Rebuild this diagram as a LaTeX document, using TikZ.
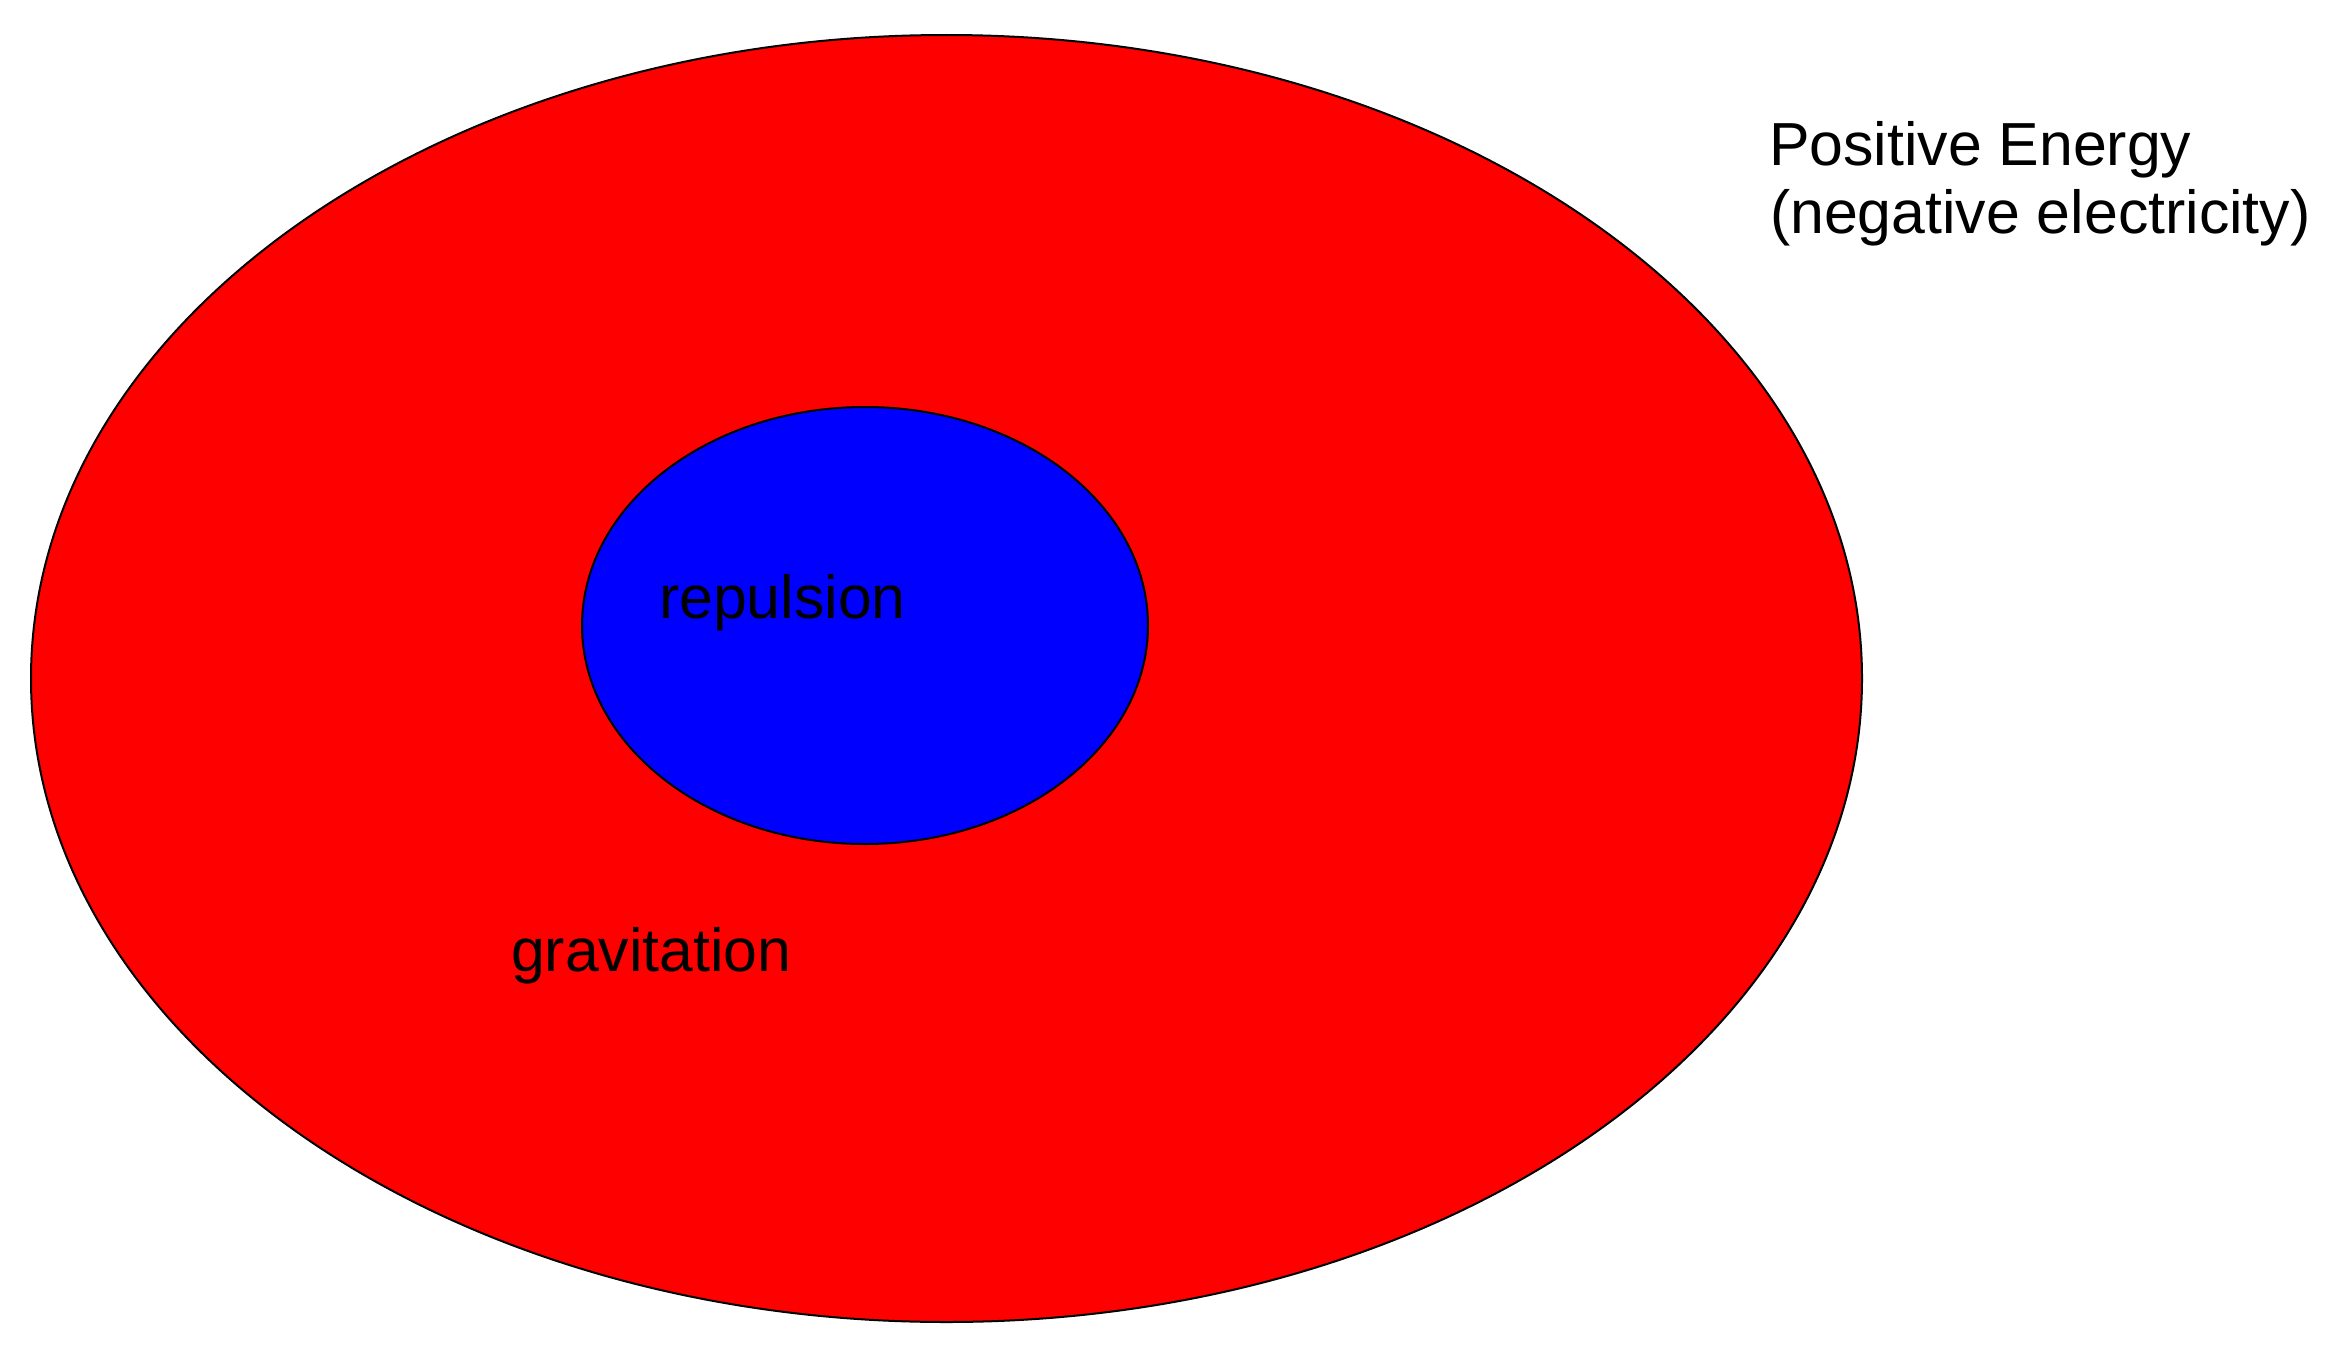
\documentclass[tikz,border=0pt]{standalone}
\usepackage{fontspec}
\setmainfont{Liberation Sans}
\begin{document}
\begin{tikzpicture}[x=1pt,y=-1pt,
  outline/.style={draw=black,line width=2pt},
  lbl/.style={anchor=base west,inner sep=0pt,outer sep=0pt,font=\fontsize{60.8}{67}\selectfont,text=black}]
\useasboundingbox (0,0) rectangle (2326,1354);
\draw[outline,fill={rgb,255:red,255;green,0;blue,0}] (946.5,678.5) ellipse [x radius=915.5, y radius=643.5];
\draw[outline,fill={rgb,255:red,0;green,0;blue,255}] (865,625.5) ellipse [x radius=283, y radius=218.5];
\node[lbl] (rep) at (659,618) {repulsion};
\node[lbl] (grav) at (511,971) {gravitation};
\node[lbl] (pe1) at (1769,165) {Positive Energy};
\node[lbl] (pe2) at (1770,233) {(negative electricity)};
\end{tikzpicture}
\end{document}
